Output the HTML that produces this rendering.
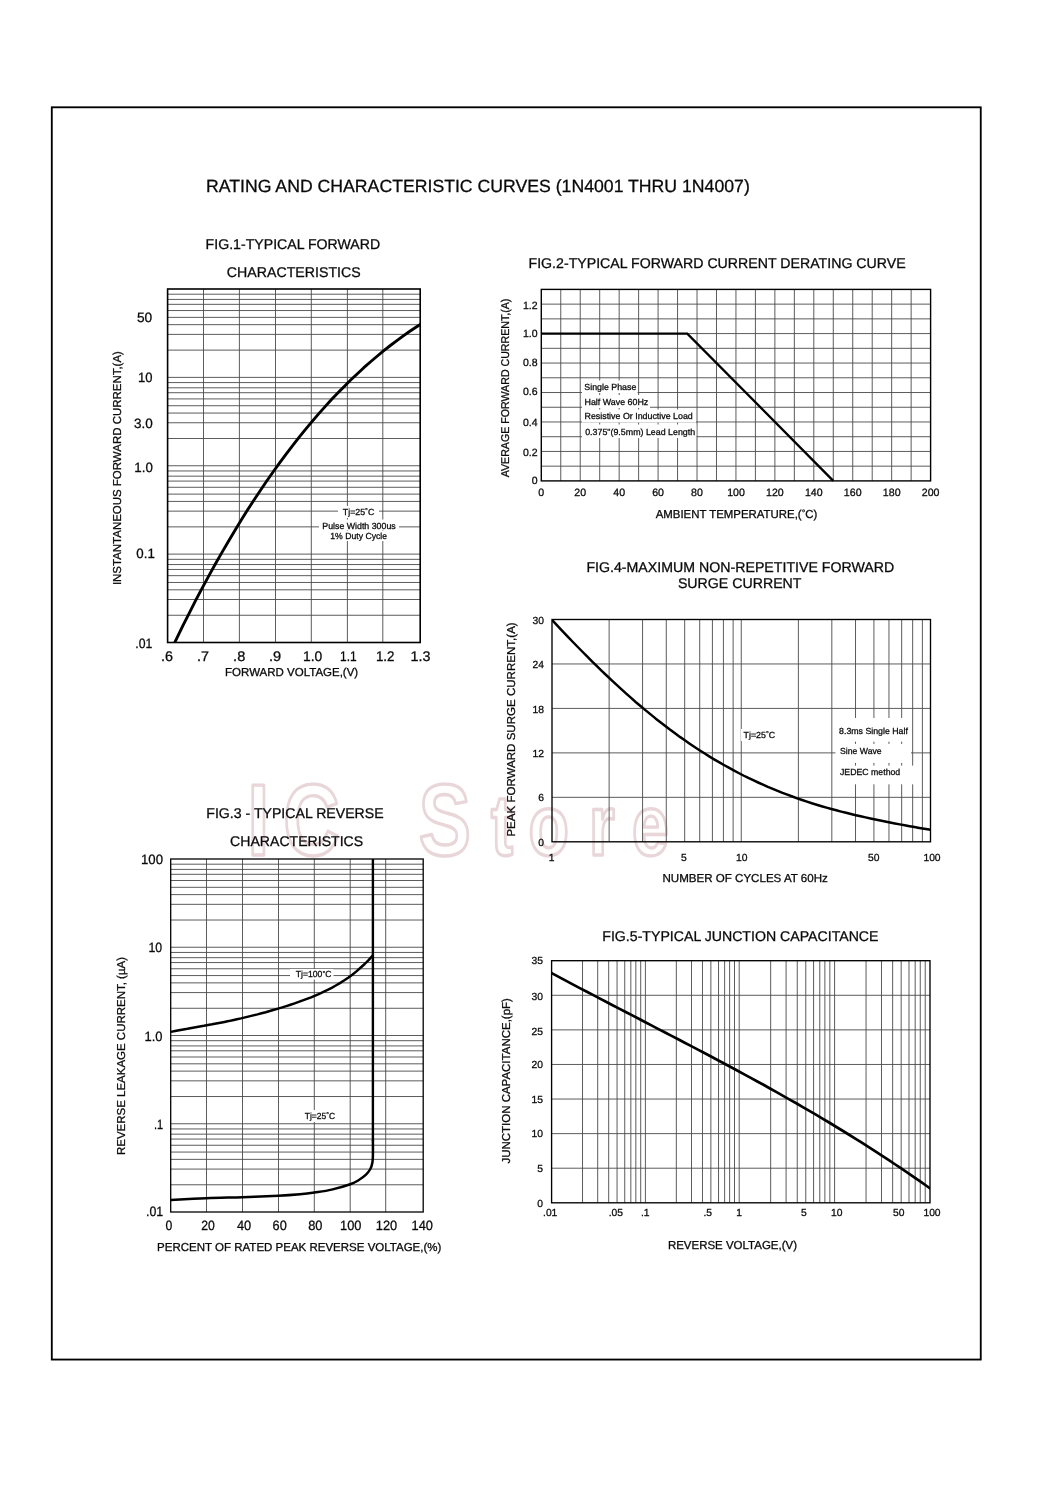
<!DOCTYPE html>
<html lang="en"><head><meta charset="utf-8"><title>1N4001 THRU 1N4007 - Rating and characteristic curves</title>
<style>html,body{margin:0;padding:0;background:#fff}svg{display:block}text{font-family:'Liberation Sans', sans-serif;fill:#0a0a0a;stroke:#0a0a0a;stroke-width:0.28px;text-rendering:geometricPrecision}</style>
</head><body>
<svg width="1060" height="1500" viewBox="0 0 1060 1500">
<rect width="1060" height="1500" fill="#fff"/>
<text transform="translate(0,854.5) scale(0.77,1)" y="0" font-size="101.5" font-weight="bold" style="fill:none;stroke:#e8d6d9;stroke-width:3.4px;stroke-linejoin:round"><tspan x="321.3 368.0 443.0 543.7">IC S</tspan><tspan font-size="86.0" x="637.8 686.4 765.0 820.8">tore</tspan></text>
<rect x="51.80" y="107.30" width="928.95" height="1252.25" fill="none" stroke="#000" stroke-width="1.85"/>
<text x="206.0" y="192.0" font-size="17.7" textLength="543.8" lengthAdjust="spacingAndGlyphs">RATING AND CHARACTERISTIC CURVES (1N4001 THRU 1N4007)</text>
<text x="205.6" y="249.2" font-size="14.15" textLength="174.6" lengthAdjust="spacingAndGlyphs">FIG.1-TYPICAL FORWARD</text>
<text x="226.8" y="276.6" font-size="14.15" textLength="133.9" lengthAdjust="spacingAndGlyphs">CHARACTERISTICS</text>
<line x1="167.60" y1="294.21" x2="420.20" y2="294.21" stroke="#4a4a4a" stroke-width="0.9"/>
<line x1="167.60" y1="299.42" x2="420.20" y2="299.42" stroke="#4a4a4a" stroke-width="0.9"/>
<line x1="167.60" y1="304.33" x2="420.20" y2="304.33" stroke="#4a4a4a" stroke-width="0.9"/>
<line x1="167.60" y1="310.54" x2="420.20" y2="310.54" stroke="#4a4a4a" stroke-width="0.9"/>
<line x1="167.60" y1="317.36" x2="420.20" y2="317.36" stroke="#4a4a4a" stroke-width="0.9"/>
<line x1="167.60" y1="324.67" x2="420.20" y2="324.67" stroke="#4a4a4a" stroke-width="0.9"/>
<line x1="167.60" y1="334.39" x2="420.20" y2="334.39" stroke="#4a4a4a" stroke-width="0.9"/>
<line x1="167.60" y1="350.12" x2="420.20" y2="350.12" stroke="#4a4a4a" stroke-width="0.9"/>
<line x1="167.60" y1="377.38" x2="420.20" y2="377.38" stroke="#4a4a4a" stroke-width="0.9"/>
<line x1="167.60" y1="382.59" x2="420.20" y2="382.59" stroke="#4a4a4a" stroke-width="0.9"/>
<line x1="167.60" y1="387.80" x2="420.20" y2="387.80" stroke="#4a4a4a" stroke-width="0.9"/>
<line x1="167.60" y1="392.71" x2="420.20" y2="392.71" stroke="#4a4a4a" stroke-width="0.9"/>
<line x1="167.60" y1="398.92" x2="420.20" y2="398.92" stroke="#4a4a4a" stroke-width="0.9"/>
<line x1="167.60" y1="405.73" x2="420.20" y2="405.73" stroke="#4a4a4a" stroke-width="0.9"/>
<line x1="167.60" y1="413.05" x2="420.20" y2="413.05" stroke="#4a4a4a" stroke-width="0.9"/>
<line x1="167.60" y1="422.76" x2="420.20" y2="422.76" stroke="#4a4a4a" stroke-width="0.9"/>
<line x1="167.60" y1="438.50" x2="420.20" y2="438.50" stroke="#4a4a4a" stroke-width="0.9"/>
<line x1="167.60" y1="465.75" x2="420.20" y2="465.75" stroke="#4a4a4a" stroke-width="0.9"/>
<line x1="167.60" y1="470.96" x2="420.20" y2="470.96" stroke="#4a4a4a" stroke-width="0.9"/>
<line x1="167.60" y1="476.17" x2="420.20" y2="476.17" stroke="#4a4a4a" stroke-width="0.9"/>
<line x1="167.60" y1="481.08" x2="420.20" y2="481.08" stroke="#4a4a4a" stroke-width="0.9"/>
<line x1="167.60" y1="487.29" x2="420.20" y2="487.29" stroke="#4a4a4a" stroke-width="0.9"/>
<line x1="167.60" y1="494.11" x2="420.20" y2="494.11" stroke="#4a4a4a" stroke-width="0.9"/>
<line x1="167.60" y1="501.42" x2="420.20" y2="501.42" stroke="#4a4a4a" stroke-width="0.9"/>
<line x1="167.60" y1="511.14" x2="420.20" y2="511.14" stroke="#4a4a4a" stroke-width="0.9"/>
<line x1="167.60" y1="526.87" x2="420.20" y2="526.87" stroke="#4a4a4a" stroke-width="0.9"/>
<line x1="167.60" y1="554.12" x2="420.20" y2="554.12" stroke="#4a4a4a" stroke-width="0.9"/>
<line x1="167.60" y1="559.34" x2="420.20" y2="559.34" stroke="#4a4a4a" stroke-width="0.9"/>
<line x1="167.60" y1="564.55" x2="420.20" y2="564.55" stroke="#4a4a4a" stroke-width="0.9"/>
<line x1="167.60" y1="569.46" x2="420.20" y2="569.46" stroke="#4a4a4a" stroke-width="0.9"/>
<line x1="167.60" y1="575.67" x2="420.20" y2="575.67" stroke="#4a4a4a" stroke-width="0.9"/>
<line x1="167.60" y1="582.48" x2="420.20" y2="582.48" stroke="#4a4a4a" stroke-width="0.9"/>
<line x1="167.60" y1="589.80" x2="420.20" y2="589.80" stroke="#4a4a4a" stroke-width="0.9"/>
<line x1="167.60" y1="599.51" x2="420.20" y2="599.51" stroke="#4a4a4a" stroke-width="0.9"/>
<line x1="167.60" y1="615.25" x2="420.20" y2="615.25" stroke="#4a4a4a" stroke-width="0.9"/>
<line x1="203.50" y1="289.00" x2="203.50" y2="642.50" stroke="#4a4a4a" stroke-width="0.9"/>
<line x1="239.40" y1="289.00" x2="239.40" y2="642.50" stroke="#4a4a4a" stroke-width="0.9"/>
<line x1="275.50" y1="289.00" x2="275.50" y2="642.50" stroke="#4a4a4a" stroke-width="0.9"/>
<line x1="311.30" y1="289.00" x2="311.30" y2="642.50" stroke="#4a4a4a" stroke-width="0.9"/>
<line x1="347.40" y1="289.00" x2="347.40" y2="642.50" stroke="#4a4a4a" stroke-width="0.9"/>
<line x1="382.80" y1="289.00" x2="382.80" y2="642.50" stroke="#4a4a4a" stroke-width="0.9"/>
<rect x="338.0" y="506.0" width="41.0" height="12.0" fill="#fff"/>
<rect x="319.0" y="519.5" width="80.0" height="11.0" fill="#fff"/>
<rect x="327.0" y="531.0" width="63.0" height="10.0" fill="#fff"/>
<text x="342.8" y="514.9" font-size="8.8" textLength="31.5" lengthAdjust="spacingAndGlyphs">Tj=25<tspan font-size="80%" dy="-0.2em">°</tspan><tspan dy="0.16em">C</tspan></text>
<text x="322.3" y="529.0" font-size="8.8" textLength="73.4" lengthAdjust="spacingAndGlyphs">Pulse Width 300us</text>
<text x="330.3" y="538.9" font-size="8.8" textLength="56.8" lengthAdjust="spacingAndGlyphs">1% Duty Cycle</text>
<clipPath id="c1"><rect x="167.6" y="289.0" width="252.6" height="353.5"/></clipPath>
<g clip-path="url(#c1)">
<path d="M170.0,652.3 L176.5,638.8 L182.9,625.6 L189.4,612.8 L195.8,600.2 L202.3,587.9 L208.8,575.9 L215.2,564.3 L221.7,552.9 L228.2,541.7 L234.6,530.9 L241.1,520.3 L247.5,510.0 L254.0,500.0 L260.5,490.3 L266.9,480.8 L273.4,471.5 L279.8,462.6 L286.3,453.8 L292.8,445.4 L299.2,437.1 L305.7,429.2 L312.2,421.4 L318.6,413.9 L325.1,406.6 L331.5,399.6 L338.0,392.8 L344.5,386.2 L350.9,379.8 L357.4,373.7 L363.8,367.7 L370.3,362.0 L376.8,356.5 L383.2,351.1 L389.7,346.0 L396.2,341.1 L402.6,336.4 L409.1,331.8 L415.5,327.5 L422.0,323.3" fill="none" stroke="#000" stroke-width="2.9" stroke-linejoin="round"/>
</g>
<rect x="167.60" y="289.00" width="252.60" height="353.50" fill="none" stroke="#000" stroke-width="1.6"/>
<text x="136.9" y="321.7" font-size="13.5" textLength="15.3" lengthAdjust="spacingAndGlyphs">50</text>
<text x="137.9" y="381.8" font-size="13.5" textLength="14.5" lengthAdjust="spacingAndGlyphs">10</text>
<text x="134.0" y="428.0" font-size="13.5" textLength="18.8" lengthAdjust="spacingAndGlyphs">3.0</text>
<text x="134.3" y="472.0" font-size="13.5" textLength="18.5" lengthAdjust="spacingAndGlyphs">1.0</text>
<text x="136.3" y="558.0" font-size="13.5" textLength="18.5" lengthAdjust="spacingAndGlyphs">0.1</text>
<text x="135.3" y="648.0" font-size="13.5" textLength="17.0" lengthAdjust="spacingAndGlyphs">.01</text>
<text x="161.0" y="660.9" font-size="14" textLength="12.0" lengthAdjust="spacingAndGlyphs">.6</text>
<text x="197.0" y="660.9" font-size="14" textLength="12.0" lengthAdjust="spacingAndGlyphs">.7</text>
<text x="233.1" y="660.9" font-size="14" textLength="12.2" lengthAdjust="spacingAndGlyphs">.8</text>
<text x="269.0" y="660.9" font-size="14" textLength="12.2" lengthAdjust="spacingAndGlyphs">.9</text>
<text x="303.0" y="660.9" font-size="14" textLength="19.3" lengthAdjust="spacingAndGlyphs">1.0</text>
<text x="340.0" y="660.9" font-size="14" textLength="16.6" lengthAdjust="spacingAndGlyphs">1.1</text>
<text x="375.9" y="660.9" font-size="14" textLength="18.6" lengthAdjust="spacingAndGlyphs">1.2</text>
<text x="410.5" y="660.9" font-size="14" textLength="19.9" lengthAdjust="spacingAndGlyphs">1.3</text>
<text x="225.1" y="676.2" font-size="11.5" textLength="133.1" lengthAdjust="spacingAndGlyphs">FORWARD VOLTAGE,(V)</text>
<text transform="translate(121.1,585.1) rotate(-90)" x="0" y="0" font-size="11.5" textLength="234.0" lengthAdjust="spacingAndGlyphs">INSTANTANEOUS FORWARD CURRENT,(A)</text>
<text x="528.5" y="268.0" font-size="14.15" textLength="377.2" lengthAdjust="spacingAndGlyphs">FIG.2-TYPICAL FORWARD CURRENT DERATING CURVE</text>
<line x1="541.30" y1="304.13" x2="930.60" y2="304.13" stroke="#4a4a4a" stroke-width="0.9"/>
<line x1="541.30" y1="318.86" x2="930.60" y2="318.86" stroke="#4a4a4a" stroke-width="0.9"/>
<line x1="541.30" y1="333.59" x2="930.60" y2="333.59" stroke="#4a4a4a" stroke-width="0.9"/>
<line x1="541.30" y1="348.32" x2="930.60" y2="348.32" stroke="#4a4a4a" stroke-width="0.9"/>
<line x1="541.30" y1="363.05" x2="930.60" y2="363.05" stroke="#4a4a4a" stroke-width="0.9"/>
<line x1="541.30" y1="377.78" x2="930.60" y2="377.78" stroke="#4a4a4a" stroke-width="0.9"/>
<line x1="541.30" y1="392.52" x2="930.60" y2="392.52" stroke="#4a4a4a" stroke-width="0.9"/>
<line x1="541.30" y1="407.25" x2="930.60" y2="407.25" stroke="#4a4a4a" stroke-width="0.9"/>
<line x1="541.30" y1="421.98" x2="930.60" y2="421.98" stroke="#4a4a4a" stroke-width="0.9"/>
<line x1="541.30" y1="436.71" x2="930.60" y2="436.71" stroke="#4a4a4a" stroke-width="0.9"/>
<line x1="541.30" y1="451.44" x2="930.60" y2="451.44" stroke="#4a4a4a" stroke-width="0.9"/>
<line x1="541.30" y1="466.17" x2="930.60" y2="466.17" stroke="#4a4a4a" stroke-width="0.9"/>
<line x1="560.76" y1="289.40" x2="560.76" y2="480.90" stroke="#4a4a4a" stroke-width="0.9"/>
<line x1="580.23" y1="289.40" x2="580.23" y2="480.90" stroke="#4a4a4a" stroke-width="0.9"/>
<line x1="599.69" y1="289.40" x2="599.69" y2="480.90" stroke="#4a4a4a" stroke-width="0.9"/>
<line x1="619.16" y1="289.40" x2="619.16" y2="480.90" stroke="#4a4a4a" stroke-width="0.9"/>
<line x1="638.62" y1="289.40" x2="638.62" y2="480.90" stroke="#4a4a4a" stroke-width="0.9"/>
<line x1="658.09" y1="289.40" x2="658.09" y2="480.90" stroke="#4a4a4a" stroke-width="0.9"/>
<line x1="677.55" y1="289.40" x2="677.55" y2="480.90" stroke="#4a4a4a" stroke-width="0.9"/>
<line x1="697.02" y1="289.40" x2="697.02" y2="480.90" stroke="#4a4a4a" stroke-width="0.9"/>
<line x1="716.49" y1="289.40" x2="716.49" y2="480.90" stroke="#4a4a4a" stroke-width="0.9"/>
<line x1="735.95" y1="289.40" x2="735.95" y2="480.90" stroke="#4a4a4a" stroke-width="0.9"/>
<line x1="755.41" y1="289.40" x2="755.41" y2="480.90" stroke="#4a4a4a" stroke-width="0.9"/>
<line x1="774.88" y1="289.40" x2="774.88" y2="480.90" stroke="#4a4a4a" stroke-width="0.9"/>
<line x1="794.35" y1="289.40" x2="794.35" y2="480.90" stroke="#4a4a4a" stroke-width="0.9"/>
<line x1="813.81" y1="289.40" x2="813.81" y2="480.90" stroke="#4a4a4a" stroke-width="0.9"/>
<line x1="833.27" y1="289.40" x2="833.27" y2="480.90" stroke="#4a4a4a" stroke-width="0.9"/>
<line x1="852.74" y1="289.40" x2="852.74" y2="480.90" stroke="#4a4a4a" stroke-width="0.9"/>
<line x1="872.21" y1="289.40" x2="872.21" y2="480.90" stroke="#4a4a4a" stroke-width="0.9"/>
<line x1="891.67" y1="289.40" x2="891.67" y2="480.90" stroke="#4a4a4a" stroke-width="0.9"/>
<line x1="911.13" y1="289.40" x2="911.13" y2="480.90" stroke="#4a4a4a" stroke-width="0.9"/>
<rect x="582.0" y="380.5" width="55.6" height="12.5" fill="#fff"/>
<rect x="582.0" y="395.0" width="68.0" height="13.0" fill="#fff"/>
<rect x="582.0" y="409.5" width="114.0" height="13.0" fill="#fff"/>
<rect x="582.0" y="424.5" width="114.3" height="13.5" fill="#fff"/>
<text x="584.3" y="390.4" font-size="8.8" textLength="52.0" lengthAdjust="spacingAndGlyphs">Single Phase</text>
<text x="584.5" y="405.0" font-size="8.8" textLength="63.8" lengthAdjust="spacingAndGlyphs">Half Wave 60Hz</text>
<text x="584.5" y="419.3" font-size="8.8" textLength="108.3" lengthAdjust="spacingAndGlyphs">Resistive Or Inductive Load</text>
<text x="585.2" y="434.6" font-size="8.8" textLength="110.0" lengthAdjust="spacingAndGlyphs">0.375"(9.5mm) Lead Length</text>
<path d="M541.3,333.6 L687.3,333.6 L833.3,480.9" fill="none" stroke="#000" stroke-width="2.3" stroke-linejoin="miter"/>
<rect x="541.30" y="289.40" width="389.30" height="191.50" fill="none" stroke="#000" stroke-width="1.4"/>
<text x="537.5" y="484.3" font-size="10.5" text-anchor="end">0</text>
<text x="537.5" y="456.3" font-size="10.5" text-anchor="end">0.2</text>
<text x="537.5" y="426.4" font-size="10.5" text-anchor="end">0.4</text>
<text x="537.5" y="394.8" font-size="10.5" text-anchor="end">0.6</text>
<text x="537.5" y="366.3" font-size="10.5" text-anchor="end">0.8</text>
<text x="537.5" y="337.4" font-size="10.5" text-anchor="end">1.0</text>
<text x="537.5" y="309.2" font-size="10.5" text-anchor="end">1.2</text>
<text x="541.3" y="495.9" font-size="10.6" text-anchor="middle">0</text>
<text x="580.2" y="495.9" font-size="10.6" text-anchor="middle">20</text>
<text x="619.2" y="495.9" font-size="10.6" text-anchor="middle">40</text>
<text x="658.1" y="495.9" font-size="10.6" text-anchor="middle">60</text>
<text x="697.0" y="495.9" font-size="10.6" text-anchor="middle">80</text>
<text x="736.0" y="495.9" font-size="10.6" text-anchor="middle">100</text>
<text x="774.9" y="495.9" font-size="10.6" text-anchor="middle">120</text>
<text x="813.8" y="495.9" font-size="10.6" text-anchor="middle">140</text>
<text x="852.7" y="495.9" font-size="10.6" text-anchor="middle">160</text>
<text x="891.7" y="495.9" font-size="10.6" text-anchor="middle">180</text>
<text x="930.6" y="495.9" font-size="10.6" text-anchor="middle">200</text>
<text x="655.7" y="517.6" font-size="11.5" textLength="161.7" lengthAdjust="spacingAndGlyphs">AMBIENT TEMPERATURE,(<tspan font-size="80%" dy="-0.2em">°</tspan><tspan dy="0.16em">C)</tspan></text>
<text transform="translate(508.6,477.3) rotate(-90)" x="0" y="0" font-size="11.3" textLength="178.7" lengthAdjust="spacingAndGlyphs">AVERAGE FORWARD CURRENT,(A)</text>
<text x="586.4" y="571.7" font-size="14.15" textLength="307.9" lengthAdjust="spacingAndGlyphs">FIG.4-MAXIMUM NON-REPETITIVE FORWARD</text>
<text x="677.9" y="587.5" font-size="14.15" textLength="123.6" lengthAdjust="spacingAndGlyphs">SURGE CURRENT</text>
<line x1="552.00" y1="663.96" x2="930.50" y2="663.96" stroke="#4a4a4a" stroke-width="0.9"/>
<line x1="552.00" y1="708.42" x2="930.50" y2="708.42" stroke="#4a4a4a" stroke-width="0.9"/>
<line x1="552.00" y1="752.88" x2="930.50" y2="752.88" stroke="#4a4a4a" stroke-width="0.9"/>
<line x1="552.00" y1="797.34" x2="930.50" y2="797.34" stroke="#4a4a4a" stroke-width="0.9"/>
<line x1="609.14" y1="619.50" x2="609.14" y2="841.80" stroke="#4a4a4a" stroke-width="0.9"/>
<line x1="642.57" y1="619.50" x2="642.57" y2="841.80" stroke="#4a4a4a" stroke-width="0.9"/>
<line x1="666.28" y1="619.50" x2="666.28" y2="841.80" stroke="#4a4a4a" stroke-width="0.9"/>
<line x1="684.68" y1="619.50" x2="684.68" y2="841.80" stroke="#4a4a4a" stroke-width="0.9"/>
<line x1="699.71" y1="619.50" x2="699.71" y2="841.80" stroke="#4a4a4a" stroke-width="0.9"/>
<line x1="712.41" y1="619.50" x2="712.41" y2="841.80" stroke="#4a4a4a" stroke-width="0.9"/>
<line x1="723.42" y1="619.50" x2="723.42" y2="841.80" stroke="#4a4a4a" stroke-width="0.9"/>
<line x1="733.13" y1="619.50" x2="733.13" y2="841.80" stroke="#4a4a4a" stroke-width="0.9"/>
<line x1="741.25" y1="619.50" x2="741.25" y2="841.80" stroke="#4a4a4a" stroke-width="0.9"/>
<line x1="798.39" y1="619.50" x2="798.39" y2="841.80" stroke="#4a4a4a" stroke-width="0.9"/>
<line x1="831.82" y1="619.50" x2="831.82" y2="841.80" stroke="#4a4a4a" stroke-width="0.9"/>
<line x1="855.53" y1="619.50" x2="855.53" y2="841.80" stroke="#4a4a4a" stroke-width="0.9"/>
<line x1="873.93" y1="619.50" x2="873.93" y2="841.80" stroke="#4a4a4a" stroke-width="0.9"/>
<line x1="888.96" y1="619.50" x2="888.96" y2="841.80" stroke="#4a4a4a" stroke-width="0.9"/>
<line x1="901.66" y1="619.50" x2="901.66" y2="841.80" stroke="#4a4a4a" stroke-width="0.9"/>
<line x1="912.67" y1="619.50" x2="912.67" y2="841.80" stroke="#4a4a4a" stroke-width="0.9"/>
<line x1="922.38" y1="619.50" x2="922.38" y2="841.80" stroke="#4a4a4a" stroke-width="0.9"/>
<rect x="741.0" y="729.0" width="37.0" height="12.0" fill="#fff"/>
<rect x="836.5" y="718.0" width="74.5" height="23.7" fill="#fff"/>
<rect x="835.5" y="743.9" width="75.5" height="19.1" fill="#fff"/>
<rect x="835.5" y="765.6" width="79.5" height="18.7" fill="#fff"/>
<text x="743.5" y="737.9" font-size="8.8" textLength="31.7" lengthAdjust="spacingAndGlyphs">Tj=25<tspan font-size="80%" dy="-0.2em">°</tspan><tspan dy="0.16em">C</tspan></text>
<text x="839.1" y="733.8" font-size="8.8" textLength="68.8" lengthAdjust="spacingAndGlyphs">8.3ms Single Half</text>
<text x="840.0" y="753.7" font-size="8.8" textLength="41.7" lengthAdjust="spacingAndGlyphs">Sine Wave</text>
<text x="840.0" y="775.0" font-size="8.8" textLength="60.2" lengthAdjust="spacingAndGlyphs">JEDEC method</text>
<clipPath id="c4"><rect x="552.0" y="619.5" width="378.5" height="222.29999999999995"/></clipPath>
<g clip-path="url(#c4)">
<path d="M548.0,615.6 L552.9,620.9 L557.8,626.1 L562.7,631.3 L567.5,636.4 L572.4,641.5 L577.3,646.5 L582.2,651.5 L587.1,656.4 L592.0,661.3 L596.9,666.1 L601.7,670.9 L606.6,675.5 L611.5,680.2 L616.4,684.7 L621.3,689.2 L626.2,693.6 L631.1,697.9 L635.9,702.2 L640.8,706.3 L645.7,710.4 L650.6,714.4 L655.5,718.4 L660.4,722.2 L665.3,726.0 L670.2,729.7 L675.0,733.3 L679.9,736.9 L684.8,740.3 L689.7,743.7 L694.6,747.0 L699.5,750.2 L704.4,753.3 L709.2,756.4 L714.1,759.3 L719.0,762.2 L723.9,765.0 L728.8,767.7 L733.7,770.4 L738.6,773.0 L743.4,775.5 L748.3,777.9 L753.2,780.2 L758.1,782.5 L763.0,784.7 L767.9,786.9 L772.8,788.9 L777.6,790.9 L782.5,792.9 L787.4,794.7 L792.3,796.5 L797.2,798.3 L802.1,800.0 L807.0,801.6 L811.8,803.2 L816.7,804.7 L821.6,806.2 L826.5,807.6 L831.4,809.0 L836.3,810.3 L841.2,811.6 L846.1,812.8 L850.9,814.0 L855.8,815.2 L860.7,816.3 L865.6,817.4 L870.5,818.5 L875.4,819.5 L880.3,820.5 L885.1,821.5 L890.0,822.5 L894.9,823.4 L899.8,824.4 L904.7,825.3 L909.6,826.2 L914.5,827.0 L919.3,827.9 L924.2,828.8 L929.1,829.6 L934.0,830.5" fill="none" stroke="#000" stroke-width="2.5" stroke-linejoin="round"/>
</g>
<rect x="552.00" y="619.50" width="378.50" height="222.30" fill="none" stroke="#000" stroke-width="1.35"/>
<text x="543.9" y="845.9" font-size="10.3" text-anchor="end">0</text>
<text x="543.9" y="801.4" font-size="10.3" text-anchor="end">6</text>
<text x="543.9" y="757.0" font-size="10.3" text-anchor="end">12</text>
<text x="543.9" y="712.5" font-size="10.3" text-anchor="end">18</text>
<text x="543.9" y="668.1" font-size="10.3" text-anchor="end">24</text>
<text x="543.9" y="623.6" font-size="10.3" text-anchor="end">30</text>
<text x="551.5" y="860.6" font-size="10.3" text-anchor="middle">1</text>
<text x="683.8" y="860.6" font-size="10.3" text-anchor="middle">5</text>
<text x="741.7" y="860.6" font-size="10.3" text-anchor="middle">10</text>
<text x="873.8" y="860.6" font-size="10.3" text-anchor="middle">50</text>
<text x="932.0" y="860.6" font-size="10.3" text-anchor="middle">100</text>
<text x="662.5" y="881.9" font-size="11.5" textLength="165.3" lengthAdjust="spacingAndGlyphs">NUMBER OF CYCLES AT 60Hz</text>
<text transform="translate(515.0,836.6) rotate(-90)" x="0" y="0" font-size="11.5" textLength="214.3" lengthAdjust="spacingAndGlyphs">PEAK FORWARD SURGE CURRENT,(A)</text>
<text x="602.3" y="940.8" font-size="14.15" textLength="276.2" lengthAdjust="spacingAndGlyphs">FIG.5-TYPICAL JUNCTION CAPACITANCE</text>
<line x1="551.60" y1="995.29" x2="930.00" y2="995.29" stroke="#4a4a4a" stroke-width="0.9"/>
<line x1="551.60" y1="1029.87" x2="930.00" y2="1029.87" stroke="#4a4a4a" stroke-width="0.9"/>
<line x1="551.60" y1="1064.46" x2="930.00" y2="1064.46" stroke="#4a4a4a" stroke-width="0.9"/>
<line x1="551.60" y1="1099.04" x2="930.00" y2="1099.04" stroke="#4a4a4a" stroke-width="0.9"/>
<line x1="551.60" y1="1133.63" x2="930.00" y2="1133.63" stroke="#4a4a4a" stroke-width="0.9"/>
<line x1="551.60" y1="1168.21" x2="930.00" y2="1168.21" stroke="#4a4a4a" stroke-width="0.9"/>
<line x1="582.53" y1="960.70" x2="582.53" y2="1202.80" stroke="#4a4a4a" stroke-width="0.9"/>
<line x1="597.70" y1="960.70" x2="597.70" y2="1202.80" stroke="#4a4a4a" stroke-width="0.9"/>
<line x1="608.68" y1="960.70" x2="608.68" y2="1202.80" stroke="#4a4a4a" stroke-width="0.9"/>
<line x1="617.06" y1="960.70" x2="617.06" y2="1202.80" stroke="#4a4a4a" stroke-width="0.9"/>
<line x1="624.74" y1="960.70" x2="624.74" y2="1202.80" stroke="#4a4a4a" stroke-width="0.9"/>
<line x1="630.83" y1="960.70" x2="630.83" y2="1202.80" stroke="#4a4a4a" stroke-width="0.9"/>
<line x1="635.82" y1="960.70" x2="635.82" y2="1202.80" stroke="#4a4a4a" stroke-width="0.9"/>
<line x1="640.71" y1="960.70" x2="640.71" y2="1202.80" stroke="#4a4a4a" stroke-width="0.9"/>
<line x1="645.40" y1="960.70" x2="645.40" y2="1202.80" stroke="#4a4a4a" stroke-width="0.9"/>
<line x1="676.33" y1="960.70" x2="676.33" y2="1202.80" stroke="#4a4a4a" stroke-width="0.9"/>
<line x1="691.50" y1="960.70" x2="691.50" y2="1202.80" stroke="#4a4a4a" stroke-width="0.9"/>
<line x1="702.48" y1="960.70" x2="702.48" y2="1202.80" stroke="#4a4a4a" stroke-width="0.9"/>
<line x1="710.86" y1="960.70" x2="710.86" y2="1202.80" stroke="#4a4a4a" stroke-width="0.9"/>
<line x1="718.54" y1="960.70" x2="718.54" y2="1202.80" stroke="#4a4a4a" stroke-width="0.9"/>
<line x1="724.63" y1="960.70" x2="724.63" y2="1202.80" stroke="#4a4a4a" stroke-width="0.9"/>
<line x1="729.62" y1="960.70" x2="729.62" y2="1202.80" stroke="#4a4a4a" stroke-width="0.9"/>
<line x1="734.51" y1="960.70" x2="734.51" y2="1202.80" stroke="#4a4a4a" stroke-width="0.9"/>
<line x1="739.20" y1="960.70" x2="739.20" y2="1202.80" stroke="#4a4a4a" stroke-width="0.9"/>
<line x1="770.66" y1="960.70" x2="770.66" y2="1202.80" stroke="#4a4a4a" stroke-width="0.9"/>
<line x1="786.09" y1="960.70" x2="786.09" y2="1202.80" stroke="#4a4a4a" stroke-width="0.9"/>
<line x1="797.25" y1="960.70" x2="797.25" y2="1202.80" stroke="#4a4a4a" stroke-width="0.9"/>
<line x1="805.78" y1="960.70" x2="805.78" y2="1202.80" stroke="#4a4a4a" stroke-width="0.9"/>
<line x1="813.59" y1="960.70" x2="813.59" y2="1202.80" stroke="#4a4a4a" stroke-width="0.9"/>
<line x1="819.78" y1="960.70" x2="819.78" y2="1202.80" stroke="#4a4a4a" stroke-width="0.9"/>
<line x1="824.86" y1="960.70" x2="824.86" y2="1202.80" stroke="#4a4a4a" stroke-width="0.9"/>
<line x1="829.83" y1="960.70" x2="829.83" y2="1202.80" stroke="#4a4a4a" stroke-width="0.9"/>
<line x1="834.60" y1="960.70" x2="834.60" y2="1202.80" stroke="#4a4a4a" stroke-width="0.9"/>
<line x1="866.06" y1="960.70" x2="866.06" y2="1202.80" stroke="#4a4a4a" stroke-width="0.9"/>
<line x1="881.49" y1="960.70" x2="881.49" y2="1202.80" stroke="#4a4a4a" stroke-width="0.9"/>
<line x1="892.65" y1="960.70" x2="892.65" y2="1202.80" stroke="#4a4a4a" stroke-width="0.9"/>
<line x1="901.18" y1="960.70" x2="901.18" y2="1202.80" stroke="#4a4a4a" stroke-width="0.9"/>
<line x1="908.99" y1="960.70" x2="908.99" y2="1202.80" stroke="#4a4a4a" stroke-width="0.9"/>
<line x1="915.18" y1="960.70" x2="915.18" y2="1202.80" stroke="#4a4a4a" stroke-width="0.9"/>
<line x1="920.26" y1="960.70" x2="920.26" y2="1202.80" stroke="#4a4a4a" stroke-width="0.9"/>
<line x1="925.23" y1="960.70" x2="925.23" y2="1202.80" stroke="#4a4a4a" stroke-width="0.9"/>
<clipPath id="c5"><rect x="551.6" y="960.7" width="378.4" height="242.0999999999999"/></clipPath>
<g clip-path="url(#c5)">
<path d="M547.0,970.6 L553.6,974.1 L560.1,977.6 L566.7,981.1 L573.2,984.6 L579.8,988.1 L586.4,991.5 L592.9,994.9 L599.5,998.4 L606.0,1001.8 L612.6,1005.2 L619.2,1008.6 L625.7,1012.0 L632.3,1015.4 L638.8,1018.8 L645.4,1022.2 L651.9,1025.6 L658.5,1029.1 L665.1,1032.5 L671.6,1035.9 L678.2,1039.3 L684.7,1042.7 L691.3,1046.1 L697.9,1049.6 L704.4,1053.0 L711.0,1056.5 L717.5,1060.0 L724.1,1063.5 L730.7,1067.0 L737.2,1070.5 L743.8,1074.1 L750.3,1077.6 L756.9,1081.2 L763.5,1084.8 L770.0,1088.5 L776.6,1092.1 L783.1,1095.8 L789.7,1099.6 L796.3,1103.3 L802.8,1107.1 L809.4,1110.9 L815.9,1114.7 L822.5,1118.6 L829.1,1122.5 L835.6,1126.5 L842.2,1130.5 L848.7,1134.5 L855.3,1138.6 L861.8,1142.7 L868.4,1146.9 L875.0,1151.1 L881.5,1155.3 L888.1,1159.6 L894.6,1164.0 L901.2,1168.4 L907.8,1172.9 L914.3,1177.4 L920.9,1181.9 L927.4,1186.5 L934.0,1191.2" fill="none" stroke="#000" stroke-width="2.7" stroke-linejoin="round"/>
</g>
<rect x="551.60" y="960.70" width="378.40" height="242.10" fill="none" stroke="#000" stroke-width="1.35"/>
<text x="542.9" y="1206.6" font-size="10.3" text-anchor="end">0</text>
<text x="542.9" y="1171.9" font-size="10.3" text-anchor="end">5</text>
<text x="542.9" y="1137.3" font-size="10.3" text-anchor="end">10</text>
<text x="542.9" y="1102.6" font-size="10.3" text-anchor="end">15</text>
<text x="542.9" y="1068.0" font-size="10.3" text-anchor="end">20</text>
<text x="542.9" y="1034.5" font-size="10.3" text-anchor="end">25</text>
<text x="542.9" y="1000.0" font-size="10.3" text-anchor="end">30</text>
<text x="542.9" y="963.8" font-size="10.3" text-anchor="end">35</text>
<text x="550.2" y="1215.6" font-size="10.3" text-anchor="middle">.01</text>
<text x="615.8" y="1215.6" font-size="10.3" text-anchor="middle">.05</text>
<text x="645.3" y="1215.6" font-size="10.3" text-anchor="middle">.1</text>
<text x="707.8" y="1215.6" font-size="10.3" text-anchor="middle">.5</text>
<text x="739.0" y="1215.6" font-size="10.3" text-anchor="middle">1</text>
<text x="803.8" y="1215.6" font-size="10.3" text-anchor="middle">5</text>
<text x="836.8" y="1215.6" font-size="10.3" text-anchor="middle">10</text>
<text x="898.8" y="1215.6" font-size="10.3" text-anchor="middle">50</text>
<text x="932.0" y="1215.6" font-size="10.3" text-anchor="middle">100</text>
<text x="667.9" y="1248.7" font-size="11.5" textLength="129.1" lengthAdjust="spacingAndGlyphs">REVERSE VOLTAGE,(V)</text>
<text transform="translate(510.4,1163.6) rotate(-90)" x="0" y="0" font-size="11.5" textLength="165.5" lengthAdjust="spacingAndGlyphs">JUNCTION CAPACITANCE,(pF)</text>
<text x="206.3" y="817.9" font-size="14.15" textLength="177.3" lengthAdjust="spacingAndGlyphs">FIG.3 - TYPICAL REVERSE</text>
<text x="230.1" y="846.0" font-size="14.15" textLength="133.1" lengthAdjust="spacingAndGlyphs">CHARACTERISTICS</text>
<line x1="170.70" y1="864.20" x2="423.20" y2="864.20" stroke="#4a4a4a" stroke-width="0.9"/>
<line x1="170.70" y1="869.41" x2="423.20" y2="869.41" stroke="#4a4a4a" stroke-width="0.9"/>
<line x1="170.70" y1="874.31" x2="423.20" y2="874.31" stroke="#4a4a4a" stroke-width="0.9"/>
<line x1="170.70" y1="880.51" x2="423.20" y2="880.51" stroke="#4a4a4a" stroke-width="0.9"/>
<line x1="170.70" y1="887.32" x2="423.20" y2="887.32" stroke="#4a4a4a" stroke-width="0.9"/>
<line x1="170.70" y1="894.62" x2="423.20" y2="894.62" stroke="#4a4a4a" stroke-width="0.9"/>
<line x1="170.70" y1="904.33" x2="423.20" y2="904.33" stroke="#4a4a4a" stroke-width="0.9"/>
<line x1="170.70" y1="920.03" x2="423.20" y2="920.03" stroke="#4a4a4a" stroke-width="0.9"/>
<line x1="170.70" y1="947.25" x2="423.20" y2="947.25" stroke="#4a4a4a" stroke-width="0.9"/>
<line x1="170.70" y1="952.45" x2="423.20" y2="952.45" stroke="#4a4a4a" stroke-width="0.9"/>
<line x1="170.70" y1="957.66" x2="423.20" y2="957.66" stroke="#4a4a4a" stroke-width="0.9"/>
<line x1="170.70" y1="962.56" x2="423.20" y2="962.56" stroke="#4a4a4a" stroke-width="0.9"/>
<line x1="170.70" y1="968.76" x2="423.20" y2="968.76" stroke="#4a4a4a" stroke-width="0.9"/>
<line x1="170.70" y1="975.57" x2="423.20" y2="975.57" stroke="#4a4a4a" stroke-width="0.9"/>
<line x1="170.70" y1="982.87" x2="423.20" y2="982.87" stroke="#4a4a4a" stroke-width="0.9"/>
<line x1="170.70" y1="992.58" x2="423.20" y2="992.58" stroke="#4a4a4a" stroke-width="0.9"/>
<line x1="170.70" y1="1008.28" x2="423.20" y2="1008.28" stroke="#4a4a4a" stroke-width="0.9"/>
<line x1="170.70" y1="1035.50" x2="423.20" y2="1035.50" stroke="#4a4a4a" stroke-width="0.9"/>
<line x1="170.70" y1="1040.70" x2="423.20" y2="1040.70" stroke="#4a4a4a" stroke-width="0.9"/>
<line x1="170.70" y1="1045.91" x2="423.20" y2="1045.91" stroke="#4a4a4a" stroke-width="0.9"/>
<line x1="170.70" y1="1050.81" x2="423.20" y2="1050.81" stroke="#4a4a4a" stroke-width="0.9"/>
<line x1="170.70" y1="1057.01" x2="423.20" y2="1057.01" stroke="#4a4a4a" stroke-width="0.9"/>
<line x1="170.70" y1="1063.82" x2="423.20" y2="1063.82" stroke="#4a4a4a" stroke-width="0.9"/>
<line x1="170.70" y1="1071.12" x2="423.20" y2="1071.12" stroke="#4a4a4a" stroke-width="0.9"/>
<line x1="170.70" y1="1080.83" x2="423.20" y2="1080.83" stroke="#4a4a4a" stroke-width="0.9"/>
<line x1="170.70" y1="1096.53" x2="423.20" y2="1096.53" stroke="#4a4a4a" stroke-width="0.9"/>
<line x1="170.70" y1="1123.75" x2="423.20" y2="1123.75" stroke="#4a4a4a" stroke-width="0.9"/>
<line x1="170.70" y1="1128.95" x2="423.20" y2="1128.95" stroke="#4a4a4a" stroke-width="0.9"/>
<line x1="170.70" y1="1134.16" x2="423.20" y2="1134.16" stroke="#4a4a4a" stroke-width="0.9"/>
<line x1="170.70" y1="1139.06" x2="423.20" y2="1139.06" stroke="#4a4a4a" stroke-width="0.9"/>
<line x1="170.70" y1="1145.26" x2="423.20" y2="1145.26" stroke="#4a4a4a" stroke-width="0.9"/>
<line x1="170.70" y1="1152.07" x2="423.20" y2="1152.07" stroke="#4a4a4a" stroke-width="0.9"/>
<line x1="170.70" y1="1159.37" x2="423.20" y2="1159.37" stroke="#4a4a4a" stroke-width="0.9"/>
<line x1="170.70" y1="1169.08" x2="423.20" y2="1169.08" stroke="#4a4a4a" stroke-width="0.9"/>
<line x1="170.70" y1="1184.78" x2="423.20" y2="1184.78" stroke="#4a4a4a" stroke-width="0.9"/>
<line x1="206.50" y1="859.00" x2="206.50" y2="1212.00" stroke="#4a4a4a" stroke-width="0.9"/>
<line x1="242.50" y1="859.00" x2="242.50" y2="1212.00" stroke="#4a4a4a" stroke-width="0.9"/>
<line x1="278.50" y1="859.00" x2="278.50" y2="1212.00" stroke="#4a4a4a" stroke-width="0.9"/>
<line x1="314.30" y1="859.00" x2="314.30" y2="1212.00" stroke="#4a4a4a" stroke-width="0.9"/>
<line x1="350.20" y1="859.00" x2="350.20" y2="1212.00" stroke="#4a4a4a" stroke-width="0.9"/>
<line x1="385.70" y1="859.00" x2="385.70" y2="1212.00" stroke="#4a4a4a" stroke-width="0.9"/>
<rect x="290.0" y="969.0" width="43.5" height="10.6" fill="#fff"/>
<rect x="302.0" y="1110.0" width="36.0" height="12.0" fill="#fff"/>
<text x="295.8" y="977.2" font-size="8.8" textLength="35.6" lengthAdjust="spacingAndGlyphs">Tj=100<tspan font-size="80%" dy="-0.2em">°</tspan><tspan dy="0.16em">C</tspan></text>
<text x="304.8" y="1118.5" font-size="8.8" textLength="30.2" lengthAdjust="spacingAndGlyphs">Tj=25<tspan font-size="80%" dy="-0.2em">°</tspan><tspan dy="0.16em">C</tspan></text>
<path d="M170.9,1031.9 L175.0,1031.0 L179.1,1030.2 L183.3,1029.4 L187.4,1028.7 L191.5,1027.9 L195.6,1027.2 L199.8,1026.5 L203.9,1025.8 L208.0,1025.0 L212.1,1024.3 L216.2,1023.5 L220.4,1022.7 L224.5,1021.9 L228.6,1021.1 L232.7,1020.2 L236.9,1019.3 L241.0,1018.4 L245.1,1017.4 L249.2,1016.4 L253.3,1015.4 L257.5,1014.4 L261.6,1013.3 L265.7,1012.2 L269.8,1011.0 L274.0,1009.8 L278.1,1008.6 L282.2,1007.4 L286.3,1006.1 L290.5,1004.7 L294.6,1003.4 L298.7,1001.9 L302.8,1000.4 L306.9,998.9 L311.1,997.3 L315.2,995.6 L319.3,993.8 L323.4,991.9 L327.6,989.9 L331.7,987.8 L335.8,985.5 L339.9,983.1 L344.0,980.5 L348.2,977.7 L352.3,974.7 L356.4,971.4 L360.5,967.8 L364.7,964.0 L368.8,959.8 L372.9,955.3" fill="none" stroke="#000" stroke-width="2.5" stroke-linejoin="round"/>
<path d="M170.7,1199.9 C176.6,1199.6 194.3,1198.8 206.3,1198.3 C218.3,1197.8 230.5,1197.6 242.5,1197.2 C254.5,1196.8 268.8,1196.2 278.4,1195.7 C288.0,1195.2 294.0,1194.7 300.0,1194.2 C306.0,1193.7 309.1,1193.3 314.4,1192.5 C319.7,1191.7 325.7,1191.0 331.7,1189.6 C337.7,1188.2 345.7,1185.8 350.2,1184.2 C354.7,1182.7 355.9,1181.9 358.5,1180.3 C361.1,1178.7 364.0,1176.6 366.0,1174.7 C368.0,1172.8 369.2,1171.0 370.3,1169.0 C371.4,1167.0 372.0,1164.8 372.4,1162.5 C372.8,1160.2 372.8,1159.2 372.9,1155.5 C373.0,1151.8 372.9,1142.6 372.9,1140.0" fill="none" stroke="#000" stroke-width="2.5" stroke-linecap="butt" stroke-linejoin="round"/>
<line x1="372.90" y1="859.00" x2="372.90" y2="1141.00" stroke="#000" stroke-width="2.4"/>
<rect x="170.70" y="859.00" width="252.50" height="353.00" fill="none" stroke="#000" stroke-width="1.3"/>
<text x="141.0" y="863.8" font-size="13.5" textLength="22.0" lengthAdjust="spacingAndGlyphs">100</text>
<text x="148.5" y="951.8" font-size="13.5" textLength="13.7" lengthAdjust="spacingAndGlyphs">10</text>
<text x="144.5" y="1040.7" font-size="13.5" textLength="18.0" lengthAdjust="spacingAndGlyphs">1.0</text>
<text x="154.0" y="1128.8" font-size="13.5" textLength="9.2" lengthAdjust="spacingAndGlyphs">.1</text>
<text x="146.0" y="1215.5" font-size="13.5" textLength="17.2" lengthAdjust="spacingAndGlyphs">.01</text>
<text x="165.6" y="1229.7" font-size="13.5" textLength="6.8" lengthAdjust="spacingAndGlyphs">0</text>
<text x="201.2" y="1229.7" font-size="13.5" textLength="13.6" lengthAdjust="spacingAndGlyphs">20</text>
<text x="236.9" y="1229.7" font-size="13.5" textLength="14.3" lengthAdjust="spacingAndGlyphs">40</text>
<text x="272.6" y="1229.7" font-size="13.5" textLength="14.2" lengthAdjust="spacingAndGlyphs">60</text>
<text x="308.2" y="1229.7" font-size="13.5" textLength="14.3" lengthAdjust="spacingAndGlyphs">80</text>
<text x="340.1" y="1229.7" font-size="13.5" textLength="21.4" lengthAdjust="spacingAndGlyphs">100</text>
<text x="375.8" y="1229.7" font-size="13.5" textLength="21.4" lengthAdjust="spacingAndGlyphs">120</text>
<text x="411.5" y="1229.7" font-size="13.5" textLength="21.4" lengthAdjust="spacingAndGlyphs">140</text>
<text x="157.1" y="1251.0" font-size="11.5" textLength="284.3" lengthAdjust="spacingAndGlyphs">PERCENT OF RATED PEAK REVERSE VOLTAGE,(%)</text>
<text transform="translate(124.5,1155.0) rotate(-90)" x="0" y="0" font-size="11.5" textLength="198.0" lengthAdjust="spacingAndGlyphs">REVERSE LEAKAGE CURRENT, (µA)</text>
</svg>
</body></html>
